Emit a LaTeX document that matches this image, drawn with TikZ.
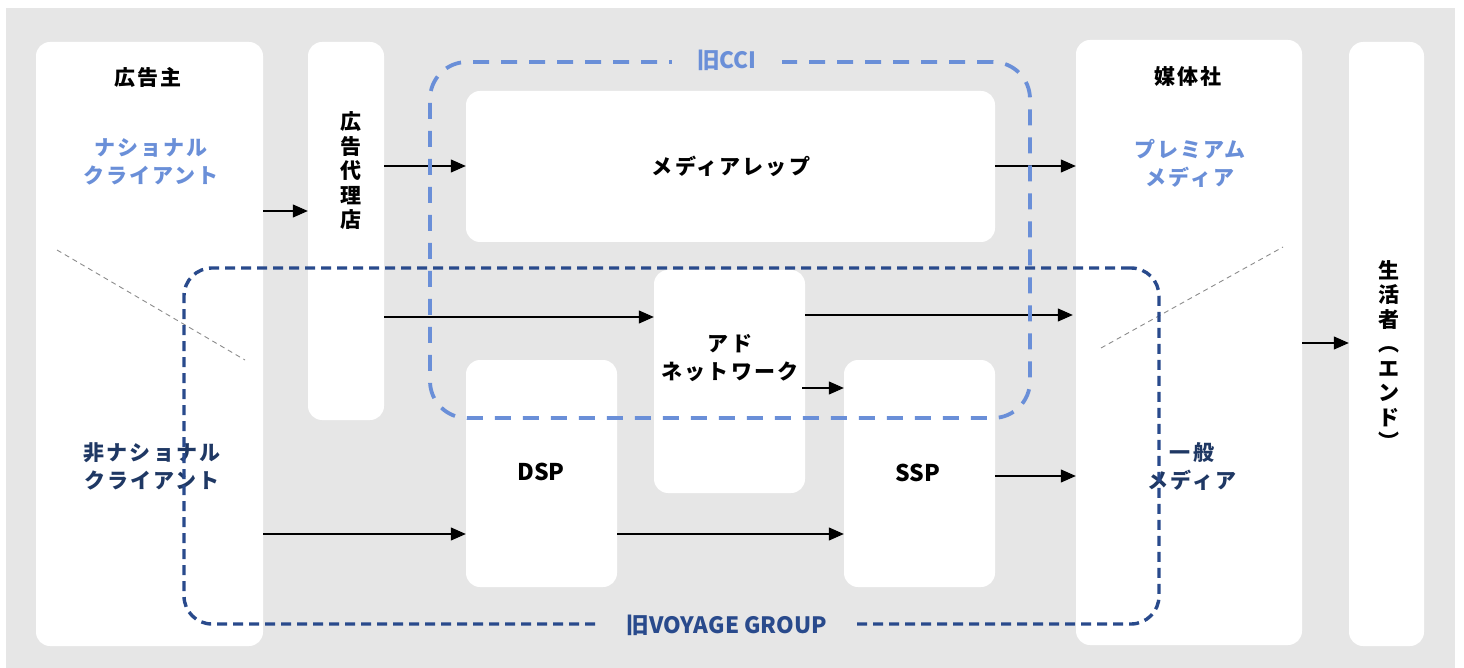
\documentclass[tikz,border=0pt]{standalone}
\usepackage{fontspec}
\setmainfont{Noto Sans CJK JP}
\newfontfamily\jpfont{Noto Sans CJK JP}[LetterSpace=10]
\usetikzlibrary{arrows.meta}
\definecolor{bgc}{HTML}{E6E6E6}
\definecolor{lblue}{HTML}{6A8FD8}
\definecolor{dblue}{HTML}{294A8C}
\definecolor{navy}{HTML}{1F3864}
\definecolor{diag}{HTML}{8C8C8C}
\begin{document}
\begin{tikzpicture}[x=1pt,y=-1pt,
  panel/.style={fill=white, rounded corners=14pt, inner sep=0pt, draw=none},
  jp/.style={font=\jpfont\bfseries\fontsize{21}{28}\selectfont, align=center, inner sep=0pt},
  vjp/.style={font=\jpfont\bfseries\fontsize{21}{24.5}\selectfont, align=center, inner sep=0pt},
  lat/.style={font=\bfseries\fontsize{23}{28}\selectfont, inner sep=0pt},
  grouplabel/.style={font=\bfseries\fontsize{22.5}{28}\selectfont, fill=bgc, inner ysep=3pt},
  arr/.style={draw=black, line width=1.1pt, -{Triangle[length=15pt,width=13pt]}},
  diagline/.style={draw=diag, line width=0.9pt, dash pattern=on 5pt off 4pt},
  cciline/.style={draw=lblue, line width=3.8pt, dash pattern=on 16pt off 12pt, rounded corners=37pt, inner sep=0pt},
  vgline/.style={draw=dblue, line width=3.4pt, dash pattern=on 10pt off 6pt, rounded corners=28pt, inner sep=0pt}
]
\useasboundingbox (0,0) rectangle (1464,668);
\fill[bgc] (6,8) rectangle (1455,668);

% panels
\node[panel, minimum width=227pt, minimum height=604pt] (adv) at (149.5,344) {};
\node[panel, minimum width=76pt, minimum height=378pt] (agency) at (346,231) {};
\node[panel, minimum width=529pt, minimum height=151pt] (rep) at (730.5,166.5) {};
\node[panel, minimum width=151pt, minimum height=223pt] (adnet) at (729.5,381.5) {};
\node[panel, minimum width=151pt, minimum height=227pt] (dsp) at (541.5,473.5) {};
\node[panel, minimum width=151pt, minimum height=227pt] (ssp) at (919.5,473.5) {};
\node[panel, minimum width=226pt, minimum height=605pt] (media) at (1189,342.5) {};
\node[panel, minimum width=75pt, minimum height=604pt] (cons) at (1386.5,344) {};

% diagonal separators
\coordinate (dl1) at (57,250);
\coordinate (dl2) at (245,360);
\coordinate (dr1) at (1101,348);
\coordinate (dr2) at (1283,247);
\draw[diagline] (dl1) -- (dl2);
\draw[diagline] (dr1) -- (dr2);

% texts
\node[jp] (t-adv) at (148,77) {広告主};
\node[jp, text=lblue] (t-nat) at (151,162) {ナショナル\\クライアント};
\node[jp, text=navy] (t-nonnat) at (152,466) {非ナショナル\\クライアント};
\node[vjp] (t-agency) at (351,171) {広\\告\\代\\理\\店};
\node[jp] (t-rep) at (731,166) {メディアレップ};
\node[jp] (t-adnet) at (730,358) {アド\\ネットワーク};
\node[lat] (t-dsp) at (541,472) {DSP};
\node[lat] (t-ssp) at (918,473) {SSP};
\node[jp] (t-media) at (1188,77) {媒体社};
\node[jp, text=lblue] (t-prem) at (1190,163) {プレミアム\\メディア};
\node[jp, text=navy] (t-gen) at (1192,466) {一般\\メディア};
\node[vjp] (t-cons) at (1389,355) {生\\活\\者\\︵\\エ\\ン\\ド\\︶};

% arrows
\coordinate (ya) at (0,211);
\coordinate (yb) at (0,166);
\coordinate (yc) at (0,317);
\coordinate (yd) at (0,315);
\coordinate (ye) at (0,388);
\coordinate (yf) at (0,534);
\coordinate (yg) at (0,476);
\coordinate (yh) at (0,343);
\draw[arr] (adv.east |- ya) -- (agency.west |- ya);
\draw[arr] (agency.east |- yb) -- (rep.west |- yb);
\draw[arr] (rep.east |- yb) -- (media.west |- yb);
\draw[arr] (agency.east |- yc) -- (adnet.west |- yc);
\draw[arr, shorten >=3pt] (adnet.east |- yd) -- (media.west |- yd);
\draw[arr] ([xshift=-3pt]adnet.east |- ye) -- (ssp.west |- ye);
\draw[arr] (adv.east |- yf) -- (dsp.west |- yf);
\draw[arr] (dsp.east |- yf) -- (ssp.west |- yf);
\draw[arr] (ssp.east |- yg) -- (media.west |- yg);
\draw[arr] (media.east |- yh) -- (cons.west |- yh);

% groups
\node[vgline, minimum width=975pt, minimum height=356pt] (vg) at (671.5,446) {};
\node[cciline, minimum width=600pt, minimum height=356pt] (cci) at (730,240) {};
\node[grouplabel, text=lblue, inner xsep=25pt] (cci-l) at ([xshift=-3pt]cci.north) {旧CCI};
\node[grouplabel, text=dblue, inner xsep=27pt] (vg-l) at ([xshift=55.5pt]vg.south) {旧VOYAGE GROUP};
\end{tikzpicture}
\end{document}
